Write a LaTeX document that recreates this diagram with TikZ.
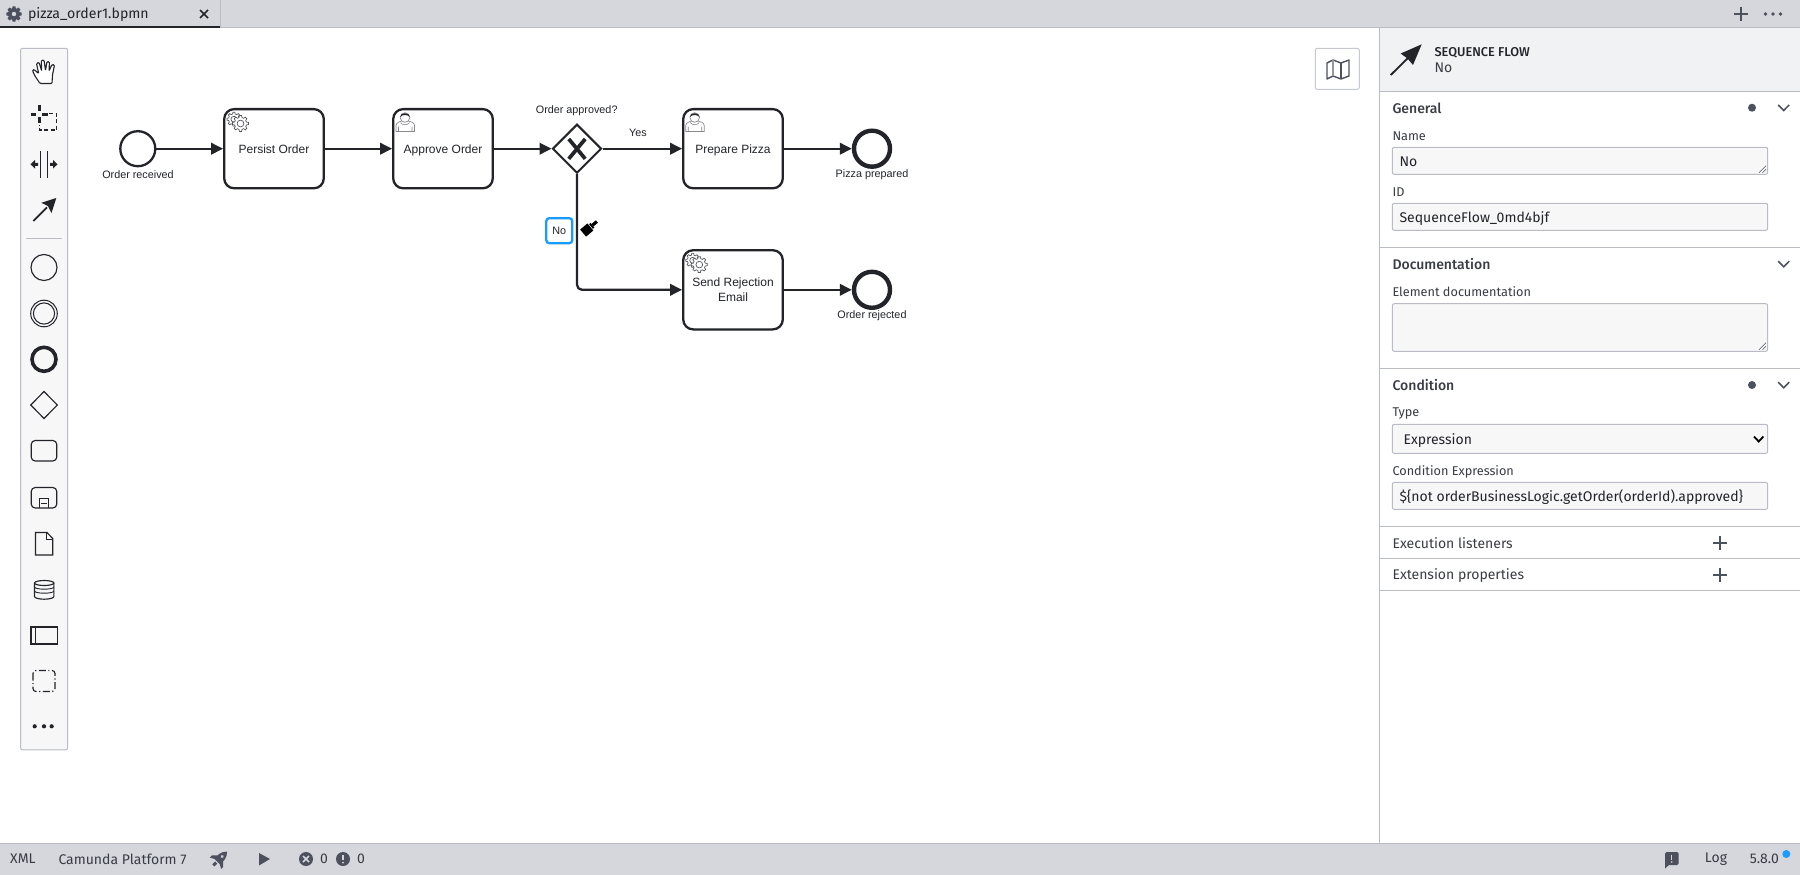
\documentclass[tikz,border=0pt]{standalone}
\usepackage{fontspec}
\setmainfont{Liberation Sans}
\newfontfamily\uifont{Fira Sans}
\newfontfamily\uimed{Fira Sans Medium}
\usetikzlibrary{arrows.meta,shapes.geometric,calc}
\definecolor{ink}{HTML}{22242A}
\definecolor{barbg}{HTML}{D5D7DD}
\definecolor{edge}{HTML}{B9BCC6}
\definecolor{palbg}{HTML}{F7F7F8}
\definecolor{headbg}{HTML}{F1F2F4}
\definecolor{uitext}{HTML}{3A3C45}
\definecolor{iconc}{HTML}{4D515E}
\definecolor{hilite}{HTML}{1A9BFF}
\definecolor{gearc}{HTML}{55575E}
\tikzset{
  task/.style={draw=ink,line width=2.3pt,rounded corners=10pt,fill=white,minimum width=99.6pt,minimum height=79.2pt,inner sep=0pt,align=center,font=\fontsize{12}{15}\selectfont,text=ink},
  startev/.style={circle,draw=ink,line width=2.3pt,fill=white,minimum size=35pt,inner sep=0pt},
  endev/.style={circle,draw=ink,line width=4.4pt,fill=white,minimum size=36pt,inner sep=0pt},
  gate/.style={diamond,aspect=1,draw=ink,line width=2pt,fill=white,minimum size=49pt,inner sep=0pt},
  flow/.style={draw=ink,line width=2.3pt,-{Triangle[length=12pt,width=11.5pt]}},
  lab/.style={font=\fontsize{10.8}{13}\selectfont,text=ink,inner sep=0pt},
  ui/.style={font=\uifont\fontsize{14}{16}\selectfont,text=uitext,inner sep=0pt,anchor=west},
  uihead/.style={font=\uimed\fontsize{14}{16}\selectfont,text=uitext,inner sep=0pt,anchor=west},
  uismall/.style={font=\uifont\fontsize{12.7}{15}\selectfont,text=uitext,inner sep=0pt,anchor=west},
  uival/.style={font=\uifont\fontsize{14}{16}\selectfont,text=ink,inner sep=0pt,anchor=west},
  field/.style={draw=edge,fill=palbg,line width=1pt,rounded corners=2pt},
  sep/.style={draw=edge,line width=1pt},
  palicon/.style={draw=ink,line width=1.15pt},
  gearline/.style={draw=gearc,line width=.7pt,fill=white},
}
\newcommand{\cogwheel}[4]{%
  \begin{scope}[shift={(#1,#2)}]
    \draw[#4] (-14:#3*.76) \foreach \a in {0,45,...,315}{ -- (\a-14:#3*.76) -- (\a-8:#3) -- (\a+8:#3) -- (\a+14:#3*.76)} -- cycle;
    \draw[#4] (0,0) circle[radius=#3*.42];
  \end{scope}}
\newcommand{\gearsicon}[2]{%
  \cogwheel{#1+10}{#2+10.5}{7}{gearline}
  \cogwheel{#1+16.6}{#2+14.8}{8}{gearline}}
\newcommand{\usericon}[2]{%
  \begin{scope}[shift={(#1,#2)}]
    \draw[draw=gearc!70,line width=.7pt,fill=white] (3.5,24) -- (3.5,18) .. controls (3.5,15) and (8,14) .. (9,13.5) -- (16,13.5) .. controls (18,14) and (22,15) .. (22,18) -- (22,24) -- cycle;
    \draw[draw=gearc!70,line width=.6pt] (6,24) -- (6,19) (19.5,24) -- (19.5,19) (8,15) .. controls (10,18) and (15,18) .. (17,15);
    \draw[draw=gearc!70,line width=.7pt,fill=white] (12.5,10) circle[radius=4.8];
    \fill[ink] (7.7,9.5) .. controls (7.5,4.5) and (17.5,4.5) .. (17.3,9.5) .. controls (15,6.8) and (10,6.8) .. (7.7,9.5) -- cycle;
  \end{scope}}
\newcommand{\chevron}[2]{\draw[draw=iconc,line width=1.5pt] (#1-5.5,#2-2.8) -- (#1,#2+2.8) -- (#1+5.5,#2-2.8);}
\newcommand{\grip}[2]{\draw[draw=iconc,line width=.6pt] (#1-7,#2) -- (#1,#2-7) (#1-3.5,#2) -- (#1,#2-3.5);}
\newcommand{\plusmark}[3]{\draw[draw=iconc,line width=#3] (#1-7,#2) -- (#1+7,#2) (#1,#2-7) -- (#1,#2+7);}
\newcommand{\tasktext}[1]{\raisebox{-4.3pt}[0pt][0pt]{#1}}
\begin{document}
\begin{tikzpicture}[x=1pt,y=-1pt]
\useasboundingbox (0,0) rectangle (1800,875);
\fill[white] (0,0) rectangle (1800,875);

% --- top bar
\fill[barbg] (0,0) rectangle (1800,27.5);
\draw[sep] (0,27.5) -- (1800,27.5);
\draw[sep] (220,0) -- (220,27);
\draw[draw=ink,line width=2.3pt] (0,27) -- (220,27);
\cogwheel{14}{14}{7.2}{draw=iconc,line width=1pt,fill=iconc}
\fill[barbg] (14,14) circle[radius=2.2];
\node[uival,font=\uifont\fontsize{14.1}{16}\selectfont] (tabname) at (27.8,14.5) {pizza\_order1.bpmn};
\draw[draw=ink,line width=1.6pt] (200,10) -- (208,18) (208,10) -- (200,18);
\plusmark{1740.7}{14}{1.8pt}
\fill[iconc] (1765.5,14) circle[radius=1.8] (1773,14) circle[radius=1.8] (1780.5,14) circle[radius=1.8];

% --- palette
\draw[draw=edge,fill=palbg,line width=1pt,rounded corners=2pt] (20.6,48.3) rectangle (67.7,749.8);
\draw[draw=ink,line width=1.1pt,rounded corners=1pt,fill=white] (40,83.5) -- (35,76) -- (32.5,70.8) -- (34,69.5) -- (38.7,73.5) -- (36.5,63.5) -- (39,62.3) -- (41.7,71) -- (41.3,60.5) -- (44,60) -- (45.5,70.5) -- (47,61.5) -- (49.5,62) -- (49,71) -- (52,64.5) -- (54.5,65) -- (52.5,75) -- (52,83.5) -- cycle;
% lasso
\draw[draw=ink,line width=3pt] (30.5,114) -- (36,114) (42,114) -- (47.5,114) (39,104.5) -- (39,111) (39,117) -- (39,122.5);
\draw[draw=ink,line width=1.2pt,dash pattern=on 4pt off 2.5pt] (49,113.5) -- (56.5,113.5) -- (56.5,130) -- (39.5,130) -- (39.5,125);
% space tool
\draw[draw=ink,line width=1.2pt] (40.3,151) -- (40.3,177.7) (47.7,151) -- (47.7,177.7);
\fill[ink] (30.5,164.3) -- (35,160) -- (35,162.8) -- (38,162.8) -- (38,165.8) -- (35,165.8) -- (35,168.6) -- cycle;
\fill[ink] (57.5,164.3) -- (53,160) -- (53,162.8) -- (50,162.8) -- (50,165.8) -- (53,165.8) -- (53,168.6) -- cycle;
% connect tool
\draw[draw=ink,line width=1.8pt] (33.3,221) -- (47,207.3);
\fill[ink] (56.3,198) -- (51.5,213) -- (48,206) -- (41.3,202.8) -- cycle;
\draw[draw=edge,line width=1pt] (26,238.7) -- (62,238.7);
\draw[palicon] (44,267.5) circle[radius=13];
\draw[draw=ink,line width=1pt] (44,313.5) circle[radius=13.3] (44,313.5) circle[radius=10.6];
\draw[draw=ink,line width=3.6pt] (44,359.3) circle[radius=12];
\draw[palicon] (44,391.5) -- (57.3,405) -- (44,418.5) -- (30.8,405) -- cycle;
\draw[palicon,rounded corners=4pt] (31.2,440.5) rectangle (56.8,461);
\begin{scope}[yshift=-1pt]
\draw[palicon,rounded corners=4pt] (31.2,486.5) rectangle (56.8,507);
\draw[draw=ink,line width=.9pt] (39.2,507) -- (39.2,497.3) -- (48.8,497.3) -- (48.8,507);
\draw[draw=ink,line width=.9pt] (41.3,502) -- (46.7,502);
\draw[palicon] (35.5,531.5) -- (47,531.5) -- (52.7,537.5) -- (52.7,554) -- (35.5,554) -- cycle;
\draw[draw=ink,line width=.9pt] (46.5,532) -- (46.5,538) -- (52.5,538);
\draw[palicon] (34.5,582) -- (34.5,595.5) arc[start angle=180,end angle=0,x radius=9.7,y radius=2.7] -- (53.9,582);
\draw[palicon] (44.2,582) ellipse[x radius=9.7,y radius=2.5];
\draw[draw=ink,line width=.9pt] (34.5,586) arc[start angle=180,end angle=0,x radius=9.7,y radius=2.2] (34.5,590) arc[start angle=180,end angle=0,x radius=9.7,y radius=2.2];
\draw[palicon] (31,626) rectangle (57.2,643);
\draw[palicon] (35.2,626) -- (35.2,643);
\draw[draw=ink,line width=1.15pt,rounded corners=3pt,dash pattern=on 7pt off 2.5pt on 1.2pt off 2.5pt] (33,669.5) rectangle (55,690.5);
\fill[ink] (34.7,725.3) circle[radius=2.1] (44,725.3) circle[radius=2.1] (51.7,725.3) circle[radius=2.1];
\end{scope}

% --- minimap button
\draw[draw=edge!80,fill=white,line width=1pt,rounded corners=2pt] (1315.3,48.3) rectangle (1359.3,89.3);
\draw[draw=iconc,line width=1.4pt,line join=round] (1327,63) -- (1333,60) -- (1341,63) -- (1349,60) -- (1349,76) -- (1341,79) -- (1333,76) -- (1327,79) -- cycle;
\draw[draw=iconc!60,line width=1.4pt] (1333,60) -- (1333,76);
\draw[draw=iconc,line width=1.4pt] (1341,63) -- (1341,79);

% --- process diagram
\node[startev] (s) at (137.8,148.7) {};
\node[task] (persist) at (274,148.7) {\tasktext{Persist Order}};
\node[task] (approve) at (443,148.7) {\tasktext{Approve Order}};
\node[gate] (gw) at (577,148.7) {};
\node[task] (prep) at (733,148.7) {\tasktext{Prepare Pizza}};
\node[task] (send) at (733,289.8) {Send Rejection\\Email};
\node[endev] (e1) at (872,148.7) {};
\node[endev] (e2) at (872,289.8) {};
\node[lab] (ls) at (138,174.3) {Order received};
\node[lab] (lg) at (576.7,110.3) {Order approved?};
\node[lab] (ly) at (638,133.3) {Yes};
\node[lab] (le1) at (872,174.5) {Pizza prepared};
\node[lab] (le2) at (872,315.5) {Order rejected};
\draw[flow] (s) -- (persist);
\draw[flow] (persist) -- (approve);
\draw[flow] (approve) -- (gw);
\draw[flow] (gw) -- (prep);
\draw[flow] (prep) -- (e1);
\draw[flow] (send) -- (e2);
\draw[flow,rounded corners=5pt] (gw.south) |- (send.west);
\draw[draw=ink,line width=3.7pt] (568.8,139) -- (585.2,158.8) (585.2,139) -- (568.8,158.8);
\gearsicon{223.9}{108.7}
\usericon{392.5}{107.5}
\usericon{682.2}{107.5}
\gearsicon{682.7}{249.8}
\node[draw=hilite,line width=2.3pt,rounded corners=3pt,fill=white,minimum width=26pt,minimum height=25pt,inner sep=0pt,font=\fontsize{10.8}{13}\selectfont,text=ink] (lno) at (559.3,230.7) {No};
% colour tool brush
\begin{scope}[shift={(590,227.3)},rotate=40]
  \fill[black] (-9,-4.6) rectangle (0.5,4.6);
  \fill[black] (1.3,-3) rectangle (3.2,3);
  \fill[black] (3.2,-1.6) rectangle (9,1.6);
\end{scope}

% --- properties panel
\fill[headbg] (1380,28) rectangle (1800,91.3);
\draw[sep] (1379.7,27.5) -- (1379.7,843.5);
\foreach \yy in {91.3,247.3,368.3,526.3,558.3,590.3} \draw[sep] (1380,\yy) -- (1800,\yy);
\draw[draw=ink,line width=1.8pt] (1390.7,75) -- (1408,58);
\fill[ink] (1421.7,44.3) -- (1413,65) -- (1407.7,58.7) -- (1400.7,53.5) -- cycle;
\node[font=\uimed\fontsize{12.8}{14}\selectfont,text=ink,inner sep=0pt,anchor=west] (hdr) at (1434.3,53.2) {SEQUENCE FLOW};
\node[uival,text=uitext] (hdrn) at (1434.3,67.4) {No};

\node[uihead] (gen) at (1392.3,108.7) {General};
\fill[iconc] (1752,107.7) circle[radius=4];
\chevron{1783.7}{107.7}
\node[uismall] (lname) at (1392.3,136.3) {Name};
\draw[field] (1392.3,147.3) rectangle (1767.7,174.3);
\grip{1766}{172.7}
\node[uival] (vname) at (1399.3,161.5) {No};
\node[uismall] (lid) at (1392.3,192) {ID};
\draw[field] (1392.3,203.3) rectangle (1767.7,230.3);
\node[uival] (vid) at (1399.3,218.2) {SequenceFlow\_0md4bjf};

\node[uihead] (doc) at (1392.3,264) {Documentation};
\chevron{1783.7}{264}
\node[uismall] (ldoc) at (1392.3,291.3) {Element documentation};
\draw[field] (1392.3,303.7) rectangle (1767.7,351.3);
\grip{1766}{349.7}

\node[uihead] (cond) at (1392.3,385) {Condition};
\fill[iconc] (1752,385) circle[radius=4];
\chevron{1783.7}{385}
\node[uismall] (ltype) at (1392.3,413.8) {Type};
\draw[field] (1392.3,424.3) rectangle (1767.7,453.3);
\node[uival] (vtype) at (1403.3,440.2) {Expression};
\draw[draw=black,line width=1.8pt] (1754,436.5) -- (1758.7,441.5) -- (1763.4,436.5);
\node[uismall] (lcond) at (1392.3,471.7) {Condition Expression};
\draw[field] (1392.3,482.3) rectangle (1767.7,509.3);
\node[uival] (vcond) at (1399.3,496.8) {\$\{not orderBusinessLogic.getOrder(orderId).approved\}};

\node[ui] (exec) at (1392.3,543) {Execution listeners};
\plusmark{1720}{543}{1.5pt}
\node[ui] (ext) at (1392.3,576) {Extension properties};
\plusmark{1720}{575}{1.5pt}

% --- status bar
\fill[barbg] (0,843.5) rectangle (1800,875);
\draw[sep] (0,843.5) -- (1800,843.5);
\node[ui] (xml) at (10,859) {XML};
\node[ui] (cam) at (58.3,859) {Camunda Platform 7};
% rocket
\begin{scope}[shift={(219.7,859)},rotate=-45]
  \fill[iconc] (0,-10.5) .. controls (4.5,-6) and (4.5,-1) .. (3.8,3.5) -- (-3.8,3.5) .. controls (-4.5,-1) and (-4.5,-6) .. (0,-10.5) -- cycle;
  \fill[iconc] (-4,-1) -- (-8,3) -- (-8,6) -- (-3.5,3.5) -- cycle (4,-1) -- (8,3) -- (8,6) -- (3.5,3.5) -- cycle;
  \fill[iconc] (-1.5,5) rectangle (1.5,9);
  \fill[barbg] (0,-3.5) circle[radius=1.6];
\end{scope}
\fill[iconc] (259,853) -- (270,859) -- (259,865.5) -- cycle;
\fill[iconc] (306,859) circle[radius=7];
\draw[draw=barbg,line width=1.5pt] (303,856) -- (309,862) (309,856) -- (303,862);
\node[ui] (n1) at (320,859) {0};
\fill[iconc] (343,859) circle[radius=7];
\draw[draw=barbg,line width=1.7pt] (343,855) -- (343,860);
\fill[barbg] (343,862.7) circle[radius=1];
\node[ui] (n2) at (357,859) {0};
\fill[iconc,rounded corners=1.5pt] (1665,852) rectangle (1678.5,865);
\fill[iconc] (1665,863) -- (1665,868.5) -- (1670,864) -- cycle;
\draw[draw=barbg,line width=1.5pt] (1671.7,854.5) -- (1671.7,859.5);
\fill[barbg] (1671.7,862) circle[radius=.9];
\node[ui,anchor=center] (logl) at (1716,859) {Log};
\node[ui,anchor=center] (ver) at (1764.3,859) {5.8.0};
\fill[hilite] (1786.3,854) circle[radius=4];
\end{tikzpicture}
\end{document}
